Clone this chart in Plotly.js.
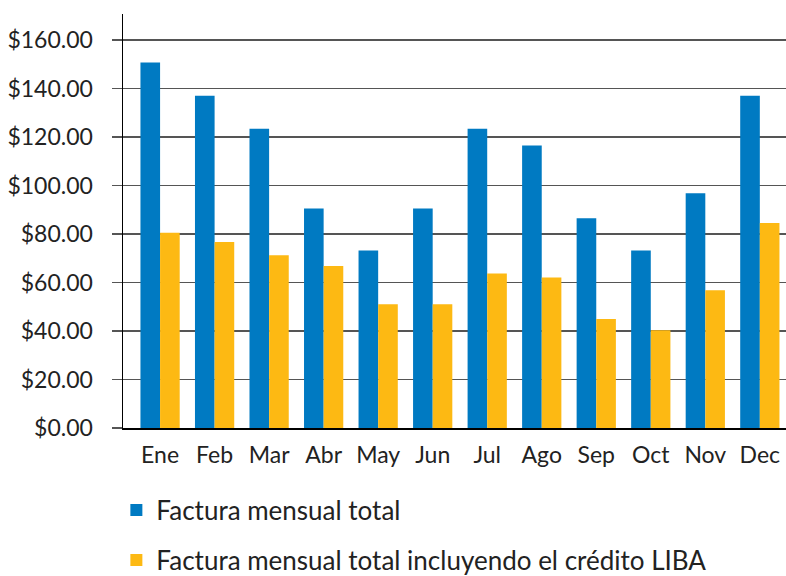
<!DOCTYPE html>
<html>
<head>
<meta charset="utf-8">
<script src="https://cdn.plot.ly/plotly-3.0.1.min.js"></script>
<style>html,body{margin:0;padding:0;background:#fff;}</style>
</head>
<body>
<div id="chart" style="width:786px;height:576px;"></div>
<script>
const months = ["Ene","Feb","Mar","Abr","May","Jun","Jul","Ago","Sep","Oct","Nov","Dec"];
const totalBill = [150.7, 137, 123.4, 90.5, 73.2, 90.5, 123.4, 116.5, 86.5, 73.2, 96.8, 137];
const billWithCredit = [80.5, 76.7, 71.2, 66.8, 51, 51, 63.7, 62.1, 44.9, 40.3, 56.8, 84.5];
const seriesNames = ["Factura mensual total", "Factura mensual total incluyendo el crédito LIBA"];
const yTicks = [0, 20, 40, 60, 80, 100, 120, 140, 160];

const FONT = "Lato, 'Open Sans', sans-serif";
const data = [
  {type:"bar", x:months, y:totalBill, name:seriesNames[0], legendgroup:"a",
   marker:{color:"#007AC2", line:{width:0}}},
  {type:"bar", x:months, y:billWithCredit, name:seriesNames[1], legendgroup:"b",
   marker:{color:"#FDB913", line:{width:0}}}
];
const layout = {
  width:786, height:576,
  margin:{l:123, r:0, t:14, b:148, autoexpand:false},
  paper_bgcolor:"#fff", plot_bgcolor:"#fff",
  font:{family:FONT, size:23, color:"#222"},
  barmode:"group", bargap:0.28, bargroupgap:0,
  showlegend:true,
  legend:{orientation:"v", x:-0.01, xanchor:"left", yref:"container", y:0.155, yanchor:"top",
          font:{family:FONT, size:26, color:"#222"}, tracegroupgap:13,
          itemwidth:30, bgcolor:"rgba(0,0,0,0)"},
  xaxis:{type:"category", range:[-0.68, 11.48], showline:true, linecolor:"#000", linewidth:1.5,
         ticks:"", showgrid:false, zeroline:false, tickfont:{family:FONT, size:23, color:"#222"},
         ticklabelstandoff:6, fixedrange:true, automargin:false},
  yaxis:{range:[0, 170.7], tickvals:yTicks, tickformat:"$.2f",
         showline:true, linecolor:"#000", linewidth:1.5,
         ticks:"outside", ticklen:10, tickwidth:1.5, tickcolor:"#555",
         showgrid:true, gridcolor:"#555", gridwidth:1.5, zeroline:false,
         tickfont:{family:FONT, size:23, color:"#222"}, ticklabelstandoff:14, fixedrange:true, automargin:false}
};
Plotly.newPlot("chart", data, layout, {displayModeBar:false, staticPlot:true});
</script>
</body>
</html>
